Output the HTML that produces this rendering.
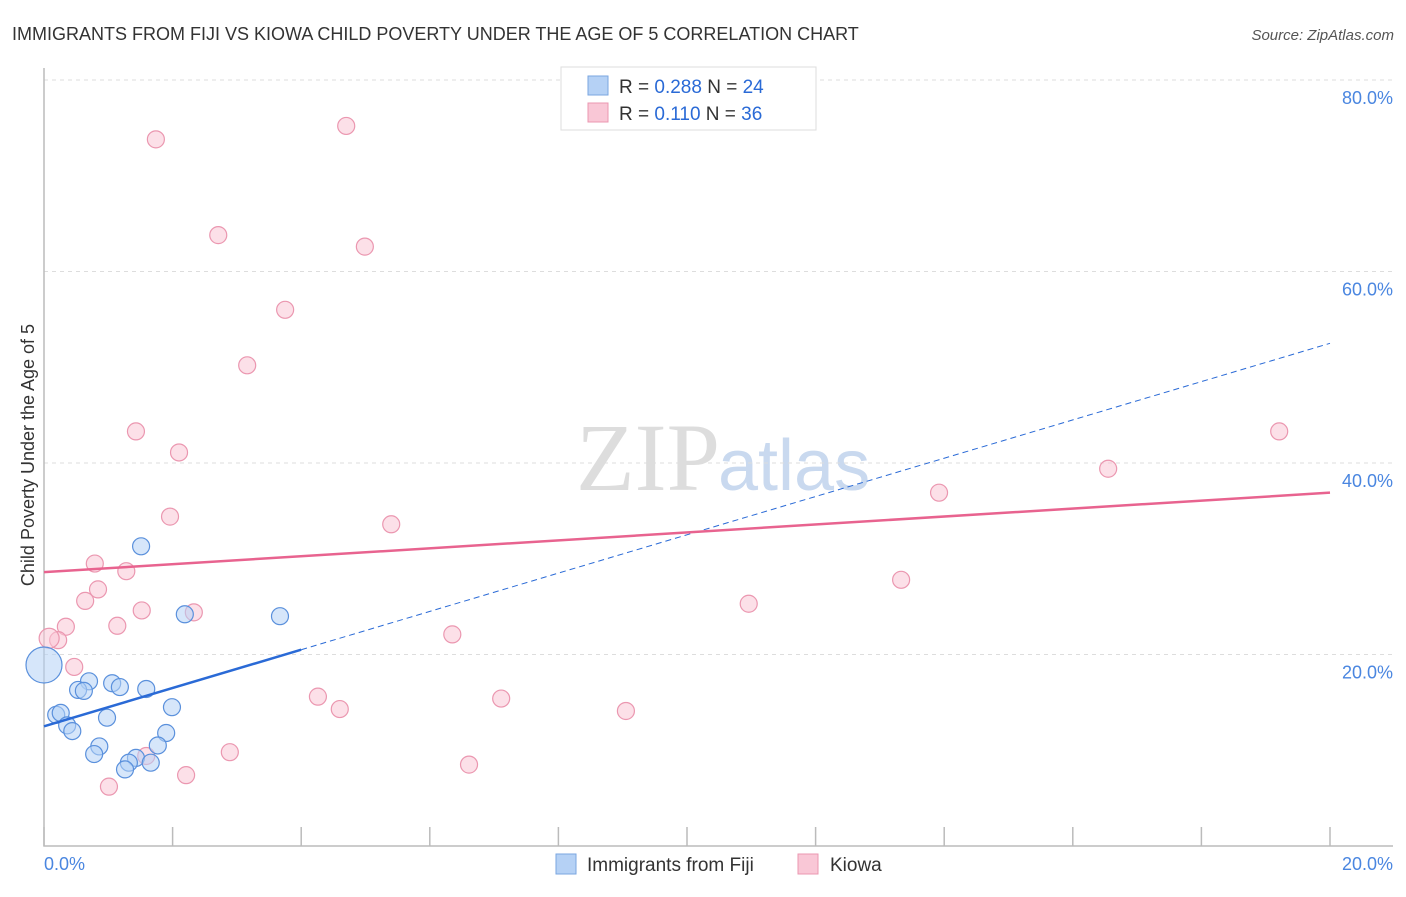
<!DOCTYPE html>
<html><head><meta charset="utf-8"><style>
body{margin:0;background:#fff;font-family:"Liberation Sans",sans-serif}
</style></head><body>
<svg width="1406" height="892" xmlns="http://www.w3.org/2000/svg" font-family="Liberation Sans, sans-serif">
<text x="12" y="40" font-size="18" fill="#333">IMMIGRANTS FROM FIJI VS KIOWA CHILD POVERTY UNDER THE AGE OF 5 CORRELATION CHART</text>
<text x="1394" y="40" font-size="15" fill="#555" font-style="italic" text-anchor="end">Source: ZipAtlas.com</text>
<text x="720" y="490" font-size="96" fill="#ddd" text-anchor="end" font-family="Liberation Serif, serif">ZIP</text>
<text x="718" y="490" font-size="72" fill="#c9d9ef">atlas</text>
<g id="grid"></g><g id="axes"></g><g id="marks"></g>
<text transform="translate(34,455) rotate(-90)" font-size="18" fill="#333" text-anchor="middle">Child Poverty Under the Age of 5</text>
<g>
<rect x="561" y="67" width="255" height="63" fill="#fff" stroke="#ddd"/>
<rect x="588" y="76" width="20" height="19" fill="#b5d1f5" stroke="#7aa6e0"/>
<rect x="588" y="103" width="20" height="19" fill="#f9c7d6" stroke="#eb97b0"/>
<text x="619" y="93" font-size="19" fill="#333">R = <tspan fill="#2a6ad6">0.288</tspan>   N = <tspan fill="#2a6ad6">24</tspan></text>
<text x="619" y="120" font-size="19" fill="#333">R =  <tspan fill="#2a6ad6">0.110</tspan>   N = <tspan fill="#2a6ad6">36</tspan></text>
</g>
<g>
<rect x="556" y="854" width="20" height="20" fill="#b5d1f5" stroke="#7aa6e0"/>
<text x="587" y="871" font-size="19" fill="#333">Immigrants from Fiji</text>
<rect x="798" y="854" width="20" height="20" fill="#f9c7d6" stroke="#eb97b0"/>
<text x="830" y="871" font-size="19" fill="#333">Kiowa</text>
</g>
</svg>
<script>
const fijiX=[1.51,2.19,3.67,0,0.70,0.53,0.62,1.06,1.18,1.59,0.19,0.26,0.36,0.44,0.98,1.99,1.90,0.86,0.78,1.77,1.43,1.32,1.26,1.66];
const fijiY=[31.3,24.2,24.0,18.9,17.2,16.3,16.2,17.0,16.6,16.4,13.7,13.9,12.6,12.0,13.4,14.5,11.8,10.4,9.6,10.5,9.2,8.7,8.0,8.7];
const kiowaX=[1.74,4.70,2.71,4.99,3.75,3.16,1.43,2.10,1.96,5.40,0.79,1.28,0.84,0.64,1.52,2.33,1.14,0.34,0.22,0.08,0.47,6.35,10.96,13.33,13.92,16.55,19.21,4.26,7.11,4.60,9.05,2.89,1.59,6.61,2.21,1.01];
const kiowaY=[73.8,75.2,63.8,62.6,56.0,50.2,43.3,41.1,34.4,33.6,29.5,28.7,26.8,25.6,24.6,24.4,23.0,22.9,21.5,21.7,18.7,22.1,25.3,27.8,36.9,39.4,43.3,15.6,15.4,14.3,14.1,9.8,9.4,8.5,7.4,6.2];
const yTicks=[20,40,60,80];
const yTickLabels=["20.0%","40.0%","60.0%","80.0%"];
const xTicks=[0,2,4,6,8,10,12,14,16,18,20];
const fijiTrend=[12.5,52.5];
const kiowaTrend=[28.6,36.9];
const NS="http://www.w3.org/2000/svg";
const sx=v=>44+v*64.3, sy=v=>846-v*9.575;
function mk(t,a,p){const e=document.createElementNS(NS,t);for(const k in a)e.setAttribute(k,a[k]);p.appendChild(e);return e;}
const grid=document.getElementById('grid'),axes=document.getElementById('axes'),marks=document.getElementById('marks');
yTicks.forEach((v,i)=>{
 const l=mk('line',{x1:44,x2:1393,y1:sy(v),y2:sy(v),stroke:'#ddd','stroke-dasharray':'4,4'},grid);
 
 
 const t=mk('text',{x:1393,y:sy(v)+24,'font-size':18,fill:'#4a86e0','text-anchor':'end'},axes);
 t.textContent=yTickLabels[i];
 
 
});
const ax=mk('path',{d:'M44,68V846H1393',fill:'none',stroke:'#bbb','stroke-width':1.5},axes);


xTicks.forEach(v=>{
 const l=mk('line',{x1:sx(v),x2:sx(v),y1:827,y2:846,stroke:'#bbb','stroke-width':1.5},axes);
 
 
});
[["0.0%",44,'start'],["20.0%",1393,'end']].forEach(a=>{
 const t=mk('text',{x:a[1],y:870,'font-size':18,fill:'#4a86e0','text-anchor':a[2]},axes);
 t.textContent=a[0];
 
 
});
function pt(x,y,r,fill,stroke,name){
 const c=mk('circle',{cx:sx(x),cy:sy(y),r:r,fill:fill,'fill-opacity':0.55,stroke:stroke,'stroke-width':1.2},marks);
 
 
}
kiowaX.forEach((x,i)=>pt(x,kiowaY[i],i==19?10:8.5,'#f9c7d6','#eb97b0','kiowa-point'));
fijiX.forEach((x,i)=>pt(x,fijiY[i],i==3?18:8.5,'#b5d1f5','#5a90dc','fiji-point'));
const fy=x=>fijiTrend[0]+(fijiTrend[1]-fijiTrend[0])*x/20;
let l=mk('line',{x1:sx(0),y1:sy(fy(0)),x2:sx(4),y2:sy(fy(4)),stroke:'#2a6ad6','stroke-width':2.5},marks);


l=mk('line',{x1:sx(4),y1:sy(fy(4)),x2:sx(20),y2:sy(fy(20)),stroke:'#2a6ad6','stroke-width':1,'stroke-dasharray':'6,4'},marks);


l=mk('line',{x1:sx(0),y1:sy(kiowaTrend[0]),x2:sx(20),y2:sy(kiowaTrend[1]),stroke:'#e8638f','stroke-width':2.5},marks);


</script>
</body></html>
